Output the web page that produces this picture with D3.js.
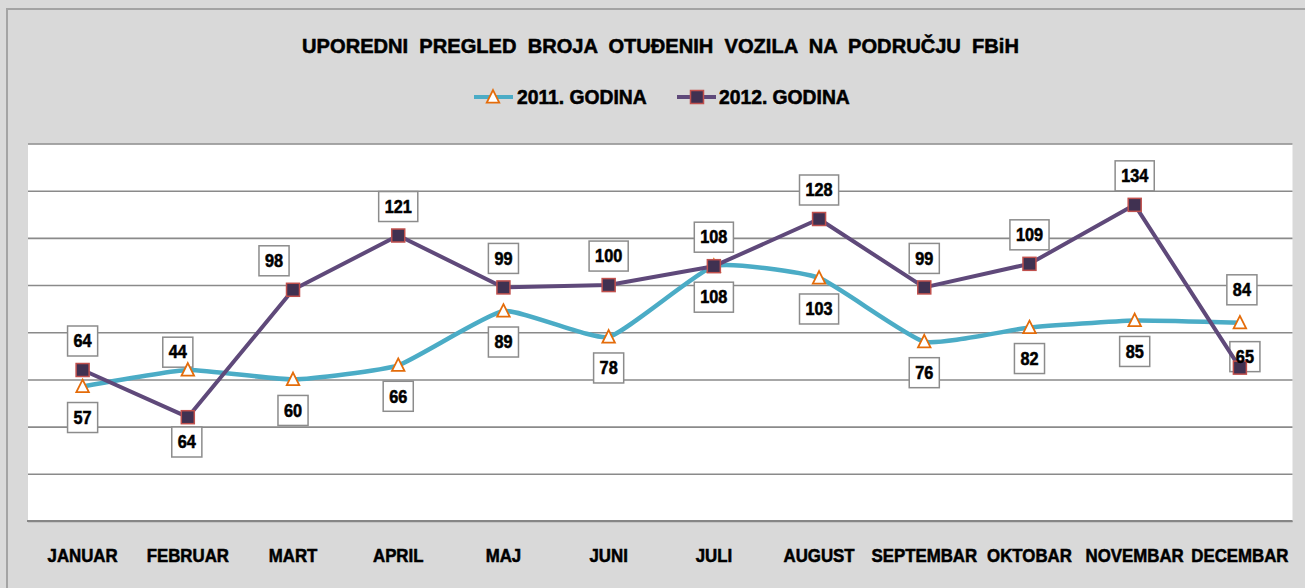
<!DOCTYPE html>
<html>
<head>
<meta charset="utf-8">
<script src="https://cdn.jsdelivr.net/npm/d3@7"></script>
<style>
  html, body { margin: 0; padding: 0; background: #dadada; }
  svg { display: block; }
  text { font-family: "Liberation Sans", Arial, sans-serif; font-weight: bold; fill: #000; stroke: #000; stroke-width: 0.55px; }
</style>
</head>
<body>
<svg id="chart" width="1305" height="588"></svg>
<script>
// Monthly counts of stolen vehicles
const months = ["JANUAR", "FEBRUAR", "MART", "APRIL", "MAJ", "JUNI", "JULI", "AUGUST", "SEPTEMBAR", "OKTOBAR", "NOVEMBAR", "DECEMBAR"];
const values2011 = [57, 64, 60, 66, 89, 78, 108, 103, 76, 82, 85, 84];
const values2012 = [64, 44, 98, 121, 99, 100, 108, 128, 99, 109, 134, 65];
const yTicks = [0, 20, 40, 60, 80, 100, 120, 140, 160];
const seriesNames = ["2011. GODINA", "2012. GODINA"];
const titleText = "UPOREDNI  PREGLED  BROJA  OTUĐENIH  VOZILA  NA  PODRUČJU  FBiH";

// Value-label placement (pixel nudges relative to each point)
const labelDx2011 = [0, -1, 0, 0, 0, 0, 0, 0, 0, 0, 0, 2];
const labelDy2011 = [31, 72, 31, 31, 31, 31, 31, 31, 31, 31, 31, -33];
const labelDx2012 = [0, -10, -19, 0, 0, 0, 0, 0, 0, 0, 0, 5];
const labelDy2012 = [-29, -65, -29, -29, -29, -29, -29, -29, -29, -29, -29, -11];

const W = 1305, H = 588;
const plot = { left: 28, right: 1292.5, top: 143.5, bottom: 521 };
const C = {
  bg: "#d9d9d9", frame: "#a4a4a4", grid: "#8a8a8a",
  teal: "#4bacc6", purple: "#5f497a", sqFill: "#403151", sqStroke: "#c0504d", tri: "#e46c0a"
};

const svg = d3.select("#chart");

// Chart area background and frame
svg.append("rect").attr("x", 7).attr("y", 9).attr("width", W).attr("height", H).attr("fill", C.bg);
svg.append("path")
  .attr("d", `M7,${H} L7,9 L${W},9`)
  .attr("fill", "none").attr("stroke", C.frame).attr("stroke-width", 2);

// Plot area
svg.append("rect")
  .attr("x", plot.left).attr("y", plot.top)
  .attr("width", plot.right - plot.left).attr("height", plot.bottom - plot.top)
  .attr("fill", "#fff");

const x = d3.scaleBand().domain(months).range([30, plot.right]);
const cx = m => x(m) + x.bandwidth() / 2;
const y = d3.scaleLinear().domain([0, 160]).range([plot.bottom, plot.top]);

// Horizontal gridlines
const grid = svg.append("g")
  .attr("transform", `translate(${plot.left},0)`)
  .call(d3.axisLeft(y).tickValues(yTicks).tickSize(-(plot.right - plot.left)).tickFormat(""));
grid.select(".domain").remove();
grid.selectAll(".tick line").attr("stroke", C.grid).attr("stroke-width", 1.6);

// Category axis
const xAxis = svg.append("g")
  .attr("transform", `translate(0,${plot.bottom})`)
  .call(d3.axisBottom(x).tickSize(0).tickPadding(0));
xAxis.select(".domain").remove();
svg.append("line")
  .attr("x1", plot.left - 1).attr("x2", plot.right)
  .attr("y1", plot.bottom).attr("y2", plot.bottom)
  .attr("stroke", "#868686").attr("stroke-width", 2.2);
xAxis.selectAll(".tick text")
  .attr("y", 41).attr("dy", 0)
  .attr("font-size", 18.5)
  .attr("transform", "scale(0.91,1)")
  .style("font-family", "'Liberation Sans', Arial, sans-serif")
  .style("font-weight", "bold")
  .attr("fill", "#000");

// Title
const title = svg.append("text")
  .attr("x", 0).attr("y", 0)
  .attr("text-anchor", "middle")
  .attr("font-size", 20.5)
  .style("white-space", "pre")
  .text(titleText);
const tLen = title.node().getComputedTextLength();
title.attr("transform", `translate(660.5,53) scale(${717 / tLen},1)`);

// Marker helpers
const triPath = (s) => `M0,${-s * 0.55} L${s * 0.5},${s * 0.45} L${-s * 0.5},${s * 0.45} Z`;
function drawTriangle(g, px, py) {
  g.append("path").attr("d", triPath(12.5))
    .attr("transform", `translate(${px},${py})`)
    .attr("fill", "#fff").attr("stroke", C.tri).attr("stroke-width", 1.8);
}
function drawSquare(g, px, py) {
  g.append("rect").attr("x", px - 6.5).attr("y", py - 6.5).attr("width", 13).attr("height", 13)
    .attr("fill", C.sqFill).attr("stroke", C.sqStroke).attr("stroke-width", 1.5);
}

// Legend
const legend = svg.append("g");
legend.append("line").attr("x1", 474).attr("x2", 513).attr("y1", 97).attr("y2", 97)
  .attr("stroke", C.teal).attr("stroke-width", 4);
drawTriangle(legend, 493, 97);
legend.append("text").attr("x", 517).attr("y", 104).attr("font-size", 19.3).text(seriesNames[0]);
legend.append("line").attr("x1", 677).attr("x2", 716).attr("y1", 97).attr("y2", 97)
  .attr("stroke", C.purple).attr("stroke-width", 4);
drawSquare(legend, 697, 97);
legend.append("text").attr("x", 719).attr("y", 104).attr("font-size", 19.3).text(seriesNames[1]);

// Value label boxes (behind the series)
const labels = [];
months.forEach((m, i) => {
  labels.push({ v: values2011[i], x: cx(m) + labelDx2011[i], y: y(values2011[i]) + labelDy2011[i] });
  labels.push({ v: values2012[i], x: cx(m) + labelDx2012[i], y: y(values2012[i]) + labelDy2012[i] });
});
const boxLayer = svg.append("g");
const textLayer = svg.append("g");
const labelScale = 0.93, labelSize = 17.5;
labels.forEach(d => {
  const t = textLayer.append("text")
    .attr("text-anchor", "middle")
    .attr("font-size", labelSize)
    .attr("transform", `translate(${d.x},${d.y + 6.3}) scale(${labelScale},1)`)
    .text(d.v);
  const w = t.node().getComputedTextLength() * labelScale + 12;
  boxLayer.append("rect")
    .attr("x", d.x - w / 2).attr("y", d.y - 15)
    .attr("width", w).attr("height", 30)
    .attr("fill", "#fff").attr("stroke", "#8c8c8c").attr("stroke-width", 1.5);
});

// Series lines: 2011 is smoothed, 2012 is straight segments
const line2011 = d3.line().x((d, i) => cx(months[i])).y(d => y(d)).curve(d3.curveCardinal.tension(0.55));
const line2012 = d3.line().x((d, i) => cx(months[i])).y(d => y(d));

const series = svg.append("g");
series.append("path").datum(values2011).attr("d", line2011)
  .attr("fill", "none").attr("stroke", C.teal).attr("stroke-width", 4.5).attr("stroke-linejoin", "round");
series.append("path").datum(values2012).attr("d", line2012)
  .attr("fill", "none").attr("stroke", C.purple).attr("stroke-width", 4).attr("stroke-linejoin", "round");

const marks = svg.append("g");
values2011.forEach((v, i) => drawTriangle(marks, cx(months[i]), y(v)));
values2012.forEach((v, i) => drawSquare(marks, cx(months[i]), y(v)));

// Label text stays on top
textLayer.raise();
</script>
</body>
</html>
